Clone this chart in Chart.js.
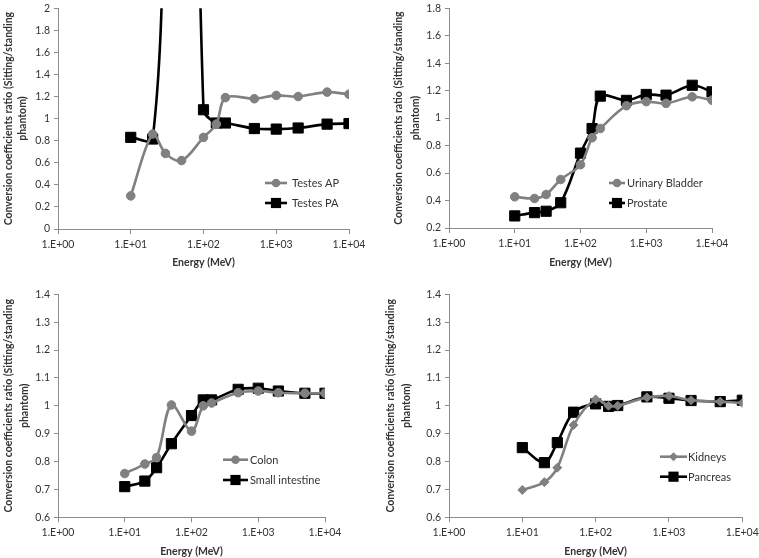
<!DOCTYPE html>
<html><head><meta charset="utf-8">
<script src="https://cdn.jsdelivr.net/npm/chart.js@4"></script>
<style>
html,body{margin:0;padding:0;background:#fff;}
body{width:759px;height:558px;overflow:hidden;position:relative;}
canvas{position:absolute;}
</style></head>
<body>
<canvas id="c1" width="380" height="280" style="left:0;top:0"></canvas>
<canvas id="c2" width="379" height="280" style="left:380px;top:0"></canvas>
<canvas id="c3" width="380" height="278" style="left:0;top:280px"></canvas>
<canvas id="c4" width="379" height="278" style="left:380px;top:280px"></canvas>
<script>
// ---- data ----
const energies = [10, 20, 30, 50, 100, 150, 200, 500, 1000, 2000, 5000, 10000];
const xTickValues = [1, 10, 100, 1000, 10000];
const xTickLabels = ['1.E+00', '1.E+01', '1.E+02', '1.E+03', '1.E+04'];
const yTicksTestes = [0, 0.2, 0.4, 0.6, 0.8, 1, 1.2, 1.4, 1.6, 1.8, 2];
const yTicksBladder = [0.2, 0.4, 0.6, 0.8, 1, 1.2, 1.4, 1.6, 1.8];
const yTicksGut = [0.6, 0.7, 0.8, 0.9, 1, 1.1, 1.2, 1.3, 1.4];

const testesAP = [0.30, 0.86, 0.685, 0.62, 0.83, 0.95, 1.19, 1.18, 1.21, 1.20, 1.24, 1.22];
const testesPA = [0.83, 0.815, 3.5, 10, 1.08, 0.96, 0.96, 0.91, 0.905, 0.915, 0.95, 0.955];
const urinaryBladder = [0.427, 0.415, 0.444, 0.553, 0.661, 0.857, 0.924, 1.09, 1.12, 1.107, 1.155, 1.13];
const prostate = [0.288, 0.312, 0.322, 0.384, 0.745, 0.924, 1.16, 1.129, 1.172, 1.167, 1.239, 1.191];
const colon = [0.757, 0.791, 0.814, 1.003, 0.909, 1.0, 1.01, 1.047, 1.053, 1.047, 1.045, 1.045];
const smallIntestine = [0.71, 0.730, 0.778, 0.864, 0.965, 1.021, 1.021, 1.059, 1.063, 1.053, 1.045, 1.045];
const kidneys = [0.698, 0.726, 0.778, 0.931, 1.023, 1.0, 1.0, 1.03, 1.035, 1.02, 1.015, 1.01];
const pancreas = [0.85, 0.796, 0.868, 0.977, 1.007, 0.998, 1.001, 1.032, 1.027, 1.019, 1.015, 1.02];

const yTitle = ['Conversion coefficients ratio (Sitting/standing', 'phantom)'];
const xTitle = 'Energy (MeV)';

// ---- styles ----
const FONT = 'Lato, "Liberation Sans", sans-serif';
const AXIS = '#8c8c8c';
const TXT = '#333333';
const styles = {
  grayCircle: {color: '#808080', pointStyle: 'circle', pointRadius: 4.3},
  graySmallDiamond: {color: '#808080', pointStyle: 'rectRot', pointRadius: 4.5},
  blackSquare: {color: '#000000', pointStyle: 'rect', pointRadius: 7.2}
};

function ds(label, data, st) {
  const s = styles[st];
  return {
    label, data: data.map((v, i) => ({x: energies[i], y: v})),
    borderColor: s.color, backgroundColor: s.color,
    pointBackgroundColor: s.color, pointBorderColor: s.color,
    pointStyle: s.pointStyle, pointRadius: s.pointRadius, pointBorderWidth: 1,
    borderWidth: 2.6, tension: 0.33, fill: false
  };
}

const legendPlugin = {
  id: 'innerLegend',
  afterDatasetsDraw(chart, args, opts) {
    const ctx = chart.ctx;
    ctx.save();
    chart.data.datasets.forEach((d, i) => {
      const y = opts.ys[i];
      ctx.strokeStyle = d.borderColor;
      ctx.lineWidth = d.borderWidth;
      ctx.beginPath(); ctx.moveTo(opts.x0, y); ctx.lineTo(opts.x1, y); ctx.stroke();
      const cx = (opts.x0 + opts.x1) / 2, r = d.pointRadius;
      ctx.fillStyle = d.pointBackgroundColor;
      ctx.beginPath();
      if (d.pointStyle === 'circle') ctx.arc(cx, y, r, 0, Math.PI * 2);
      else if (d.pointStyle === 'rect') { const s = r * Math.SQRT1_2; ctx.rect(cx - s, y - s, 2 * s, 2 * s); }
      else { ctx.moveTo(cx, y - r); ctx.lineTo(cx + r, y); ctx.lineTo(cx, y + r); ctx.lineTo(cx - r, y); ctx.closePath(); }
      ctx.fill();
      ctx.fillStyle = TXT;
      ctx.font = opts.font;
      ctx.textBaseline = 'middle';
      ctx.textAlign = 'left';
      ctx.fillText(d.label, opts.tx, y + 0.5);
    });
    ctx.restore();
  }
};

function makeChart(id, cfg) {
  const el = document.getElementById(id);
  const W = el.width, H = el.height;
  const p = cfg.plot;
  return new Chart(el, {
    type: 'line',
    data: {datasets: cfg.datasets},
    options: {
      responsive: false, animation: false, events: [],
      layout: {padding: {left: 0, top: p.t, right: W - p.r, bottom: 0}},
      plugins: {legend: {display: false}, tooltip: {enabled: false},
        innerLegend: cfg.legend},
      scales: {
        x: {
          type: 'logarithmic', min: 1, max: 10000, position: 'bottom',
          afterBuildTicks: s => { s.ticks = xTickValues.map(v => ({value: v})); },
          afterFit: s => { s.height = H - p.b; s.paddingLeft = 0; s.paddingRight = 0; },
          ticks: {autoSkip: false, maxRotation: 0, padding: 4, color: TXT,
            font: {family: FONT, size: cfg.tickSize},
            callback: (v, i) => xTickLabels[i]},
          grid: {display: true, drawOnChartArea: false, drawTicks: true, tickLength: 5, color: AXIS, lineWidth: 1},
          border: {display: true, color: AXIS, width: 1},
          title: {display: true, text: xTitle, color: TXT,
            font: {family: FONT, size: cfg.titleSize, weight: 'bold', lineHeight: 1.2},
            padding: {top: 0, bottom: cfg.xTitlePad}}
        },
        y: {
          type: 'linear', min: cfg.yTicks[0], max: cfg.yTicks[cfg.yTicks.length - 1],
          afterBuildTicks: s => { s.ticks = cfg.yTicks.map(v => ({value: v})); },
          afterFit: s => { s.width = p.l; s.paddingTop = 0; s.paddingBottom = 0; },
          ticks: {padding: 4, color: TXT, font: {family: FONT, size: cfg.tickSize},
            callback: v => String(Math.round(v * 10) / 10)},
          grid: {display: true, drawOnChartArea: false, drawTicks: true, tickLength: 4, color: AXIS, lineWidth: 1},
          border: {display: true, color: AXIS, width: 1},
          title: {display: true, text: yTitle, color: TXT,
            font: {family: FONT, size: cfg.titleSize, weight: 'bold', lineHeight: cfg.yLh + 'px'},
            padding: {top: cfg.yTitlePad, bottom: 0}}
        }
      }
    },
    plugins: [legendPlugin]
  });
}

const legendFont = '11px ' + FONT;

makeChart('c1', {
  plot: {l: 58, t: 5, r: 349, b: 229}, yTicks: yTicksTestes, tickSize: 10.5, titleSize: 10.5,
  yLh: 14, yTitlePad: 2, xTitlePad: 11,
  datasets: [ds('Testes AP', testesAP, 'grayCircle'), ds('Testes PA', testesPA, 'blackSquare')],
  legend: {x0: 265, x1: 287, tx: 292, ys: [183, 203], font: legendFont}
});
makeChart('c2', {
  plot: {l: 69, t: 5, r: 332, b: 228}, yTicks: yTicksBladder, tickSize: 10.5, titleSize: 10.5,
  yLh: 17, yTitlePad: 10, xTitlePad: 11,
  datasets: [ds('Urinary Bladder', urinaryBladder, 'grayCircle'), ds('Prostate', prostate, 'blackSquare')],
  legend: {x0: 229, x1: 245, tx: 247, ys: [183, 203], font: legendFont}
});
makeChart('c3', {
  plot: {l: 58, t: 14.3, r: 325, b: 237.3}, yTicks: yTicksGut, tickSize: 10.5, titleSize: 10.5,
  yLh: 16.7, yTitlePad: 0, xTitlePad: 0,
  datasets: [ds('Colon', colon, 'grayCircle'), ds('Small intestine', smallIntestine, 'blackSquare')],
  legend: {x0: 223, x1: 248, tx: 250, ys: [179.7, 200], font: legendFont}
});
makeChart('c4', {
  plot: {l: 69, t: 14.3, r: 362.3, b: 237.3}, yTicks: yTicksGut, tickSize: 10.5, titleSize: 10.5,
  yLh: 16.7, yTitlePad: 2, xTitlePad: 0,
  datasets: [ds('Kidneys', kidneys, 'graySmallDiamond'), ds('Pancreas', pancreas, 'blackSquare')],
  legend: {x0: 280, x1: 307, tx: 308, ys: [176.7, 196.7], font: legendFont}
});
</script>
</body></html>
